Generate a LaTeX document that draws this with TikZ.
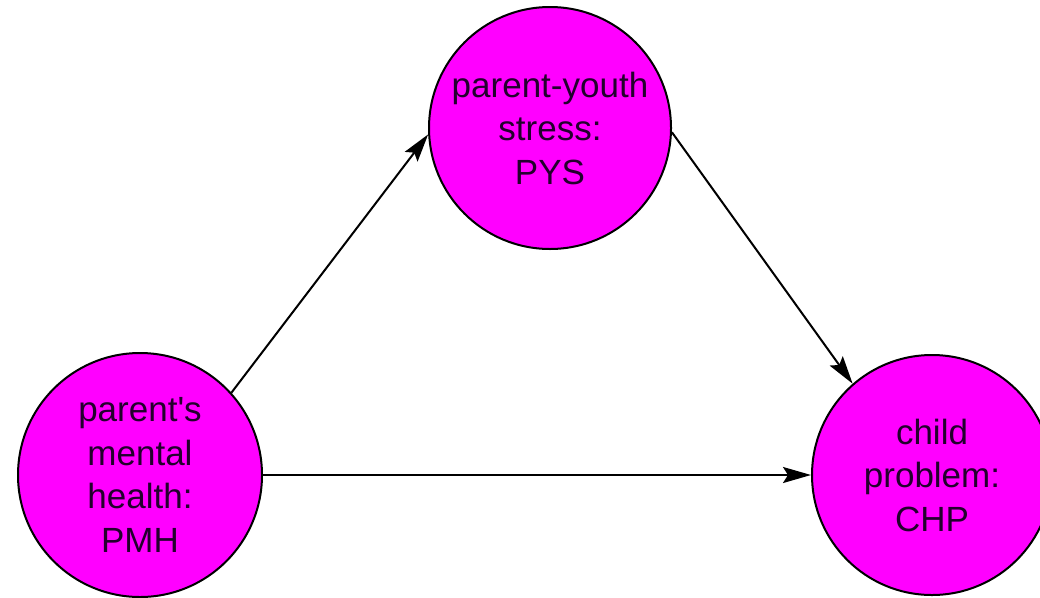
\documentclass[tikz,border=0pt]{standalone}
\usepackage{fontspec}
\setmainfont{Liberation Sans}
\usetikzlibrary{arrows.meta}
\definecolor{nodefill}{RGB}{255,0,255}
\definecolor{nodetext}{RGB}{35,0,45}
% upright apostrophe, set as a glyph so no ligature mapping turns it curly
\newcommand{\uprightquote}{\XeTeXglyph\XeTeXcharglyph"0027\relax}
\begin{document}
\begin{tikzpicture}[x=1pt,y=-1pt,
  var/.style={circle, draw=black, line width=2pt, fill=nodefill,
    inner sep=0pt, minimum size=#1, align=center, text=nodetext,
    font=\fontsize{35}{43.5}\selectfont},
  link/.style={line width=2pt, -{Stealth[length=28pt,width=16pt,inset=5pt]}}]
  \useasboundingbox (0,0) rectangle (1040,597);
  \clip (0,0) rectangle (1040,597);
  \fill[white] (0,0) rectangle (1040,597);

  % the three variables of the mediation model
  \node[var=244pt] (pmh) at (140,475) {parent\uprightquote s\\mental\\health:\\PMH};
  \node[var=242pt] (pys) at (550,128) {parent-youth\\stress:\\PYS};
  \node[var=240pt] (chp) at (932,475) {child\\problem:\\CHP};

  % paths between them
  \draw[link] (pmh.42) -- (pys.183);
  \draw[link] (pys.-2) -- (chp.131);
  \draw[link] (pmh.0) -- (chp.180);
\end{tikzpicture}
\end{document}
